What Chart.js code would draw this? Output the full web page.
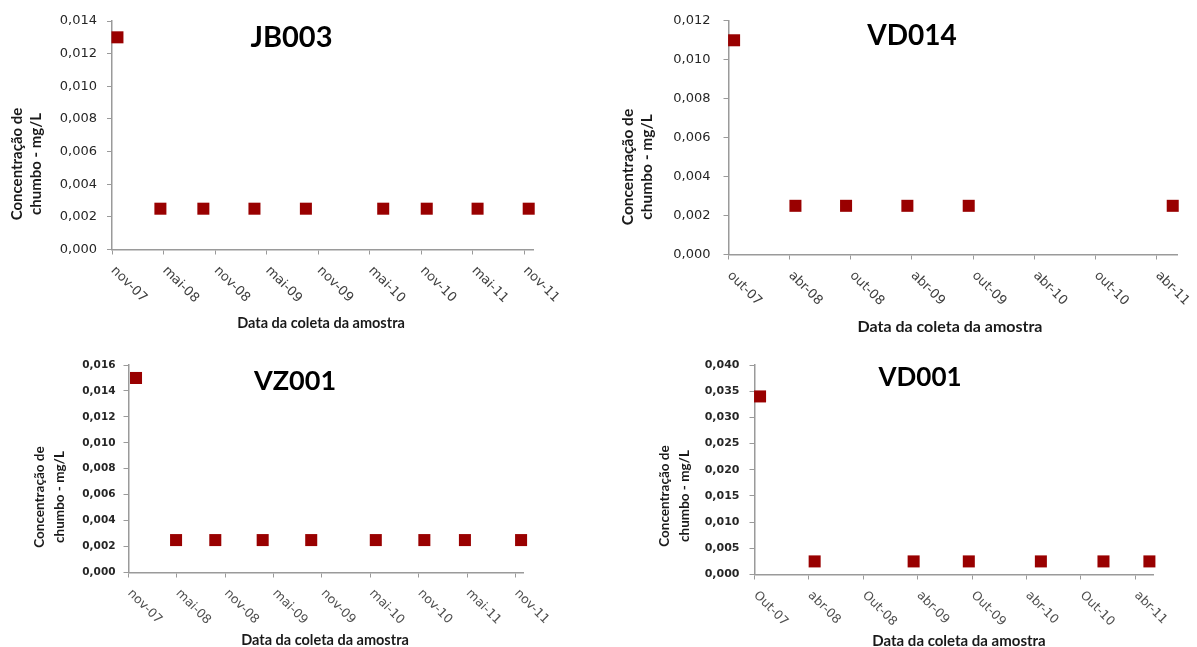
<!DOCTYPE html>
<html lang="pt">
<head>
<meta charset="utf-8">
<title>Concentração de chumbo</title>
<script src="https://cdn.jsdelivr.net/npm/chart.js@4.4.1/dist/chart.umd.min.js"></script>
<style>
  html, body { margin: 0; padding: 0; background: #fff; }
  #board { position: relative; width: 1197px; height: 647px; overflow: hidden; background: #fff; }
  #board canvas { position: absolute; left: 0; top: 0; }
</style>
</head>
<body>
<div id="board">
  <canvas id="jb003" width="1197" height="647"></canvas>
  <canvas id="vd014" width="1197" height="647"></canvas>
  <canvas id="vz001" width="1197" height="647"></canvas>
  <canvas id="vd001" width="1197" height="647"></canvas>
</div>
<script>
// Sampling dates and lead concentration (mg/L) for each monitoring point
const jb003Dates = ['2007-11-20', '2008-04-20', '2008-09-20', '2009-03-19', '2009-09-18', '2010-06-18', '2010-11-20', '2011-05-18', '2011-11-16'];
const jb003Values = [0.013, 0.0025, 0.0025, 0.0025, 0.0025, 0.0025, 0.0025, 0.0025, 0.0025];
const jb003TickLabels = ['nov-07', 'mai-08', 'nov-08', 'mai-09', 'nov-09', 'mai-10', 'nov-10', 'mai-11', 'nov-11'];
const jb003AxisStart = '2007-11-01';
const jb003AxisEnd = '2011-12-01';

const vd014Dates = ['2007-10-18', '2008-04-18', '2008-09-17', '2009-03-18', '2009-09-18', '2011-05-19'];
const vd014Values = [0.011, 0.0025, 0.0025, 0.0025, 0.0025, 0.0025];
const vd014TickLabels = ['out-07', 'abr-08', 'out-08', 'abr-09', 'out-09', 'abr-10', 'out-10', 'abr-11'];
const vd014AxisStart = '2007-10-01';
const vd014AxisEnd = '2011-06-01';

const vz001Dates = ['2007-11-29', '2008-04-28', '2008-09-24', '2009-03-21', '2009-09-21', '2010-05-22', '2010-11-22', '2011-04-23', '2011-11-22'];
const vz001Values = [0.015, 0.0025, 0.0025, 0.0025, 0.0025, 0.0025, 0.0025, 0.0025, 0.0025];
const vz001TickLabels = ['nov-07', 'mai-08', 'nov-08', 'mai-09', 'nov-09', 'mai-10', 'nov-10', 'mai-11', 'nov-11'];
const vz001AxisStart = '2007-11-01';
const vz001AxisEnd = '2011-12-01';

const vd001Dates = ['2007-10-20', '2008-04-20', '2009-03-18', '2009-09-20', '2010-05-19', '2010-12-16', '2011-05-18'];
const vd001Values = [0.034, 0.0025, 0.0025, 0.0025, 0.0025, 0.0025, 0.0025];
const vd001TickLabels = ['Out-07', 'abr-08', 'Out-08', 'abr-09', 'Out-09', 'abr-10', 'Out-10', 'abr-11'];
const vd001AxisStart = '2007-10-01';
const vd001AxisEnd = '2011-06-01';

const yTitleLines = ['Concentração de', 'chumbo - mg/L'];
const xTitleText = 'Data da coleta da amostra';

const MARKER = '#990000';
const AXIS = '#9a9a9a';
const W = 1197, H = 647;
const MONTHS_PER_TICK = 6;

// Position along a month-based axis: whole months since the axis start plus the fraction of the month
function monthsFrom(startIso, iso) {
  const [y0, m0] = startIso.split('-').map(Number);
  const [y, m, d] = iso.split('-').map(Number);
  const daysInMonth = new Date(y, m, 0).getDate();
  return (y - y0) * 12 + (m - m0) + (d - 1) / daysInMonth;
}

function fmtComma(v) {
  return v.toFixed(3).replace('.', ',');
}

// Draws the chart title, axis titles and the slanted date labels
const annotate = {
  id: 'annotate',
  afterDraw(chart, args, o) {
    const ctx = chart.ctx;
    const xs = chart.scales.x;
    const area = chart.chartArea;
    ctx.save();

    ctx.font = o.xTick.font;
    ctx.fillStyle = o.xTick.color;
    ctx.textAlign = 'left';
    ctx.textBaseline = 'middle';
    xs.ticks.forEach((t, i) => {
      const px = xs.getPixelForTick(i);
      ctx.save();
      ctx.translate(px + o.xTick.dx, area.bottom + o.xTick.dy);
      ctx.rotate(Math.PI / 4);
      ctx.fillText(t.label, 0, 0);
      ctx.restore();
    });

    ctx.textAlign = 'center';
    ctx.fillStyle = '#000';
    ctx.font = o.title.font;
    ctx.fillText(o.title.text, o.title.x, o.title.y);

    ctx.fillStyle = '#1a1a1a';
    ctx.font = o.xTitle.font;
    ctx.fillText(xTitleText, o.xTitle.x, o.xTitle.y);

    ctx.font = o.yTitle.font;
    yTitleLines.forEach((line, i) => {
      ctx.save();
      ctx.translate(o.yTitle.x + i * o.yTitle.gap, o.yTitle.y);
      ctx.rotate(-Math.PI / 2);
      ctx.fillText(line, 0, 0);
      ctx.restore();
    });
    ctx.restore();
  }
};

function buildChart(id, s) {
  const points = s.dates.map((d, i) => ({ x: monthsFrom(s.axisStart, d), y: s.values[i] }));
  const xMax = monthsFrom(s.axisStart, s.axisEnd);
  const a = s.area;
  const lineOpts = {
    display: true,
    drawOnChartArea: false,
    drawTicks: true,
    tickLength: 5,
    color: AXIS,
    lineWidth: 1
  };
  return new Chart(document.getElementById(id), {
    type: 'scatter',
    data: {
      datasets: [{
        data: points,
        pointStyle: 'rect',
        pointRadius: 8.5,
        pointHoverRadius: 8.5,
        backgroundColor: MARKER,
        borderColor: MARKER,
        borderWidth: 0,
        clip: false
      }]
    },
    options: {
      responsive: false,
      animation: false,
      devicePixelRatio: 1,
      events: [],
      layout: { padding: { left: 0, top: a.top, right: W - a.right, bottom: H - a.bottom - 10 } },
      scales: {
        x: {
          type: 'linear',
          min: 0,
          max: xMax,
          afterBuildTicks: sc => { sc.ticks = s.tickLabels.map((_, i) => ({ value: i * MONTHS_PER_TICK })); },
          afterFit: sc => { sc.height = 10; },
          ticks: { display: false, callback: (v, i) => s.tickLabels[i] },
          grid: lineOpts,
          border: { display: true, color: AXIS, width: 1.5 }
        },
        y: {
          min: 0,
          max: s.yMax,
          afterFit: sc => { sc.width = a.left; },
          ticks: {
            stepSize: s.yStep,
            padding: s.yTick.pad,
            color: '#262626',
            font: { family: 'DejaVu Sans', size: s.yTick.size, weight: s.yTick.weight },
            callback: v => fmtComma(v)
          },
          grid: lineOpts,
          border: { display: true, color: AXIS, width: 1.5 }
        }
      },
      plugins: {
        legend: { display: false },
        tooltip: { enabled: false },
        annotate: s.labels
      }
    },
    plugins: [annotate]
  });
}

buildChart('jb003', {
  dates: jb003Dates, values: jb003Values, tickLabels: jb003TickLabels,
  axisStart: jb003AxisStart, axisEnd: jb003AxisEnd,
  area: { left: 112, top: 21, right: 533, bottom: 249.5 },
  yMax: 0.014, yStep: 0.002,
  yTick: { size: 13, weight: 'normal', pad: 10 },
  labels: {
    title: { text: 'JB003', x: 291.5, y: 38, font: 'bold 29px Lato' },
    xTitle: { x: 321, y: 323, font: 'bold 14.5px Lato' },
    yTitle: { x: 17, y: 164, gap: 19, font: 'bold 15px Lato' },
    xTick: { font: '13px "DejaVu Sans"', color: '#404040', dx: 1, dy: 19 }
  }
});

buildChart('vd014', {
  dates: vd014Dates, values: vd014Values, tickLabels: vd014TickLabels,
  axisStart: vd014AxisStart, axisEnd: vd014AxisEnd,
  area: { left: 728.5, top: 19, right: 1177, bottom: 254.5 },
  yMax: 0.012, yStep: 0.002,
  yTick: { size: 13, weight: 'normal', pad: 13 },
  labels: {
    title: { text: 'VD014', x: 912, y: 36, font: 'bold 28px Lato' },
    xTitle: { x: 950, y: 327, font: 'bold 16px Lato' },
    yTitle: { x: 628, y: 167, gap: 19, font: 'bold 15.5px Lato' },
    xTick: { font: '13px "DejaVu Sans"', color: '#404040', dx: 1, dy: 19 }
  }
});

buildChart('vz001', {
  dates: vz001Dates, values: vz001Values, tickLabels: vz001TickLabels,
  axisStart: vz001AxisStart, axisEnd: vz001AxisEnd,
  area: { left: 128.5, top: 365, right: 523.5, bottom: 572.5 },
  yMax: 0.016, yStep: 0.002,
  yTick: { size: 10.5, weight: 'bold', pad: 8 },
  labels: {
    title: { text: 'VZ001', x: 295, y: 381, font: 'bold 27px Lato' },
    xTitle: { x: 325, y: 640, font: 'bold 14.5px Lato' },
    yTitle: { x: 40, y: 497, gap: 20, font: 'bold 13.5px Lato' },
    xTick: { font: '12.5px "DejaVu Sans"', color: '#505050', dx: 1, dy: 19 }
  }
});

buildChart('vd001', {
  dates: vd001Dates, values: vd001Values, tickLabels: vd001TickLabels,
  axisStart: vd001AxisStart, axisEnd: vd001AxisEnd,
  area: { left: 754.5, top: 365, right: 1153.5, bottom: 574.5 },
  yMax: 0.04, yStep: 0.005,
  yTick: { size: 11, weight: 'bold', pad: 10 },
  labels: {
    title: { text: 'VD001', x: 920, y: 378, font: 'bold 26px Lato' },
    xTitle: { x: 959, y: 641, font: 'bold 15px Lato' },
    yTitle: { x: 665, y: 496, gap: 20, font: 'bold 13.5px Lato' },
    xTick: { font: '12.5px "DejaVu Sans"', color: '#505050', dx: 1, dy: 19 }
  }
});
</script>
</body>
</html>
